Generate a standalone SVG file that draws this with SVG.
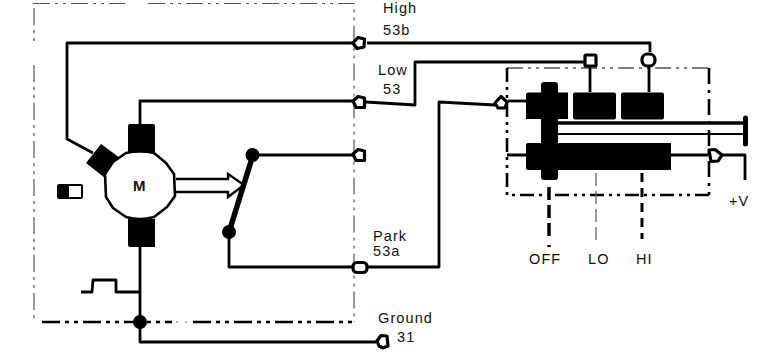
<svg xmlns="http://www.w3.org/2000/svg" width="761" height="359" viewBox="0 0 761 359">
<style>
.w{fill:none;stroke:#000;stroke-width:2.800;stroke-linejoin:round}
.b{fill:#000;stroke:none}
.c{fill:#fff;stroke:#000;stroke-width:3.200;stroke-linejoin:round}
text{font-family:"Liberation Sans",Arial,sans-serif;font-size:14.500px;fill:#111;letter-spacing:1.100px}
</style>
<rect width="761" height="359" fill="#fff"/>
<g id="frames" fill="none" stroke="#000">
<path d="M33 3.500H125M148 3.500H354V322" stroke="#555" stroke-width="1.200" stroke-dasharray="17 5 3 5 3 5"/>
<path d="M34 8V41M34 65V322" stroke="#555" stroke-width="1.200" stroke-dasharray="17 5 3 5 3 5"/>
<path d="M42 322H172M193 322H354" stroke-width="2.600" stroke-dasharray="18 5 4 5 4 5"/>
<path d="M176 322H178M185 322H187" stroke="#777" stroke-width="1.200"/>
<path d="M507 68H709" stroke-width="1.200" stroke-dasharray="16 5 3 5 3 5"/>
<path d="M507 68V195H709" stroke-width="2.600" stroke-dasharray="14 5 3 5 3 5"/>
<path d="M709 68V195" stroke-width="2.600" stroke-dasharray="16 6 3 6"/>
</g>
<g id="connectors">
<path class="w" d="M93 153L67 139V43H356M367 43H650V52"/>
<path class="w" d="M140 124V101H353M366 102L415 105V62H584"/>
<path class="w" d="M253 155H353"/>
<path class="w" d="M229 232V267H352M368 267H439V102L495 105"/>
<path class="w" d="M140 247V342H376"/>
<path class="w" d="M81 292H92L93 280H116V292H140"/>
<path class="w" d="M508 101H526"/>
<path class="w" d="M590 66V92M649 66V92"/>
<path class="w" style="stroke-width:3.400" d="M556 123H746"/>
<path class="w" style="stroke-width:2.200" d="M556 134H746"/>
<path class="w" d="M507 155H526M671 155H708M722 155H745V180"/>
<path d="M745.500 118V144" fill="none" stroke="#000" stroke-width="5" stroke-linecap="round"/>
<path d="M549 187V236M549 245V247" fill="none" stroke="#000" stroke-width="3.500" stroke-dasharray="13 5"/>
<path d="M596 173V240" fill="none" stroke="#555" stroke-width="1.200" stroke-dasharray="13 5"/>
<path d="M642 173V239" fill="none" stroke="#000" stroke-width="3" stroke-dasharray="9 6"/>
</g>
<g id="motor">
<path class="b" d="M130 124H153Q155 124 155 126V152H128V126Q128 124 130 124Z"/>
<path class="b" d="M128 219H155V247H130Q128 247 128 245Z"/>
<path class="b" d="M101 144L120 158L105 178L86 163Z"/>
<path d="M126 153Q140 150 154 153L166 163L174 174L175 196L167 207L154 217Q140 221 126 217L113 208L106 197L105 174L113 162Z" fill="#fff" stroke="#000" stroke-width="2.600" stroke-linejoin="round"/>
<text x="133" y="191" style="font-weight:700;font-size:15px;letter-spacing:0">M</text>
</g>
<g id="arrow"><path d="M176 179H228V174L244 185L228 197V192H176" fill="#fff" stroke="#000" stroke-width="2.400"/></g>
<g id="park-switch">
<path d="M253 155L229 232" stroke="#000" stroke-width="5.500" fill="none"/>
<circle class="b" cx="252.500" cy="155" r="7"/>
<circle class="b" cx="229" cy="232" r="7"/>
</g>
<g id="indicator"><rect x="57" y="184" width="26" height="15" rx="2" fill="#000"/><rect x="69" y="186" width="12" height="11" fill="#fff"/></g>
<g id="ground-dot"><circle class="b" cx="140" cy="322" r="7"/></g>
<g id="term-high"><path class="c" d="M353 43L358 37.500L364.500 39L364 47L357 48.500Z"/></g>
<g id="term-low"><path class="c" d="M353 101L358 96.500L364.500 98V107.500H356Z"/></g>
<g id="term-aux"><path class="c" d="M353 154L358 149.500L364.500 151V160.500H356Z"/></g>
<g id="term-park"><rect class="c" x="353" y="262.500" width="14" height="10" rx="4"/></g>
<g id="term-ground"><path class="c" d="M377 341L381 335.500L387 336L388 346L383 348L379 346Z"/></g>
<g id="term-sw-in"><path class="c" d="M495 103L501 96.500L507 102L505 108H498Z"/></g>
<g id="term-lo"><rect class="c" x="585" y="55" width="11" height="11" rx="1"/></g>
<g id="term-hi"><rect class="c" x="642" y="54" width="13" height="12" rx="5.500"/></g>
<g id="term-v"><path class="c" d="M709 150L715 149.500L722 155L718 161L711 161.500Z"/></g>
<g id="switch">
<path class="b" d="M528 92.500H541V85Q541 82 544 82H555Q558 82 558 85V92.500H568V119H558V143H671V170H558V177Q558 180 555 180H544Q541 180 541 177V170H528Q526 170 526 168V145Q526 143 528 143H541V119H526V95Q526 92.500 528 92.500Z"/>
<rect class="b" x="573" y="92.500" width="43" height="27" rx="2"/>
<rect class="b" x="621" y="92.500" width="43" height="27" rx="2"/>
</g>
<g id="labels">
<text x="383" y="13">High</text>
<text x="383" y="35">53b</text>
<text x="378" y="75">Low</text>
<text x="383" y="94">53</text>
<text x="373" y="241">Park</text>
<text x="373" y="256">53a</text>
<text x="378" y="323">Ground</text>
<text x="397" y="342">31</text>
<text x="529" y="264">OFF</text>
<text x="588" y="264">LO</text>
<text x="636" y="264">HI</text>
<text x="729" y="206">+V</text>
</g>
</svg>
